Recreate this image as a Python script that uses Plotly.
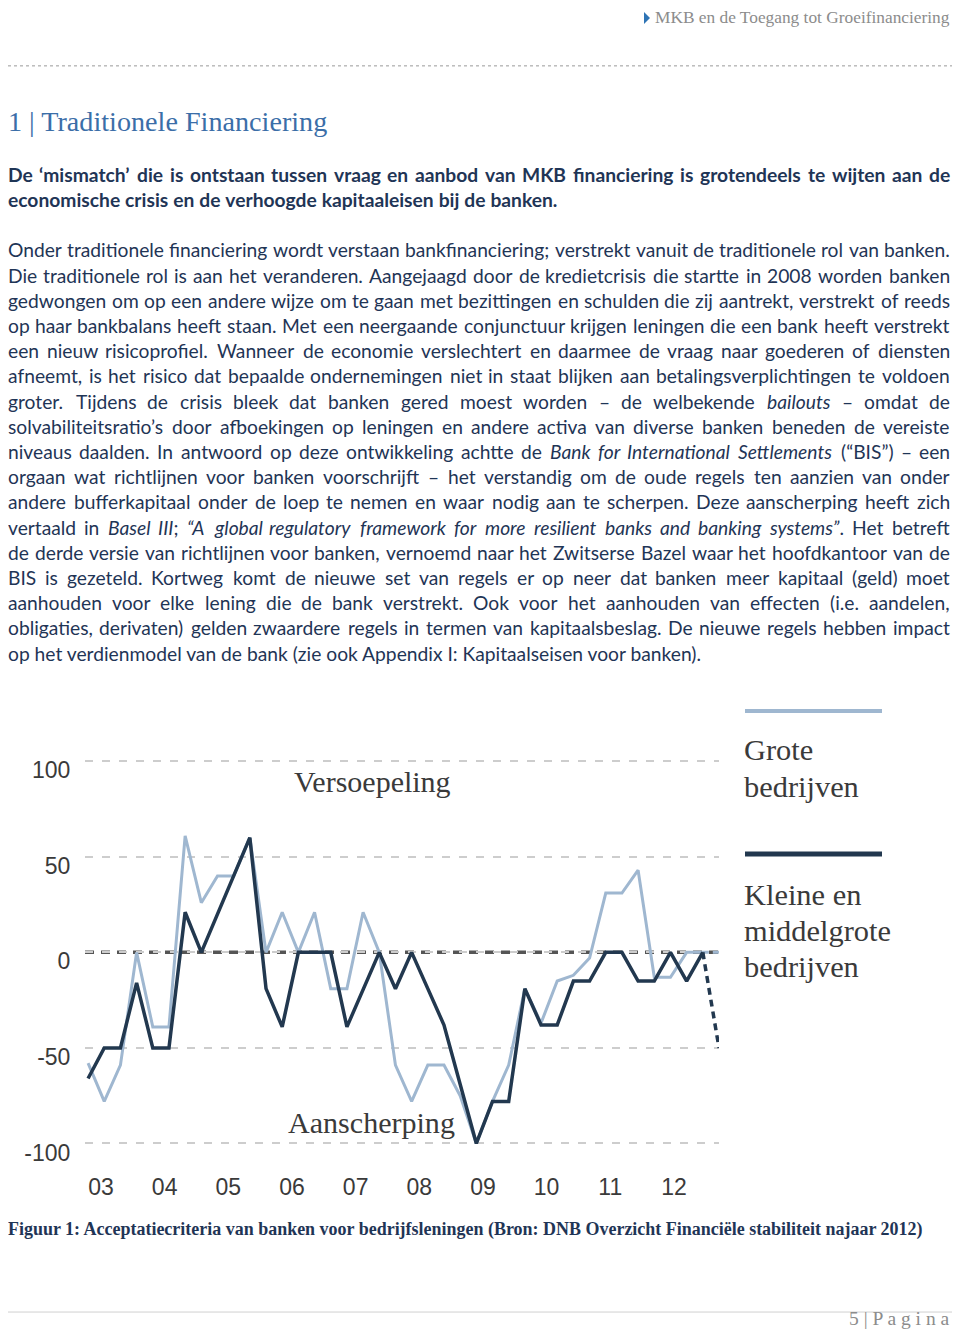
import os
import glob
import struct
import plotly.graph_objects as go

# ---------------------------------------------------------------- data
quarters = ["2003Q1", "2003Q2", "2003Q3", "2003Q4", "2004Q1", "2004Q2", "2004Q3", "2004Q4",
            "2005Q1", "2005Q2", "2005Q3", "2005Q4", "2006Q1", "2006Q2", "2006Q3", "2006Q4",
            "2007Q1", "2007Q2", "2007Q3", "2007Q4", "2008Q1", "2008Q2", "2008Q3", "2008Q4",
            "2009Q1", "2009Q2", "2009Q3", "2009Q4", "2010Q1", "2010Q2", "2010Q3", "2010Q4",
            "2011Q1", "2011Q2", "2011Q3", "2011Q4", "2012Q1", "2012Q2", "2012Q3"]
proj_quarter = "2012Q4"

# Kleine en middelgrote bedrijven (dark line)
mkb = [-66, -50, -50, -16, -50, -50, 21, 0, 20, 40, 60, -19, -39, 0, 0, 0, -39, -19, 0, -19,
       0, -19, -38, -69, -100, -78, -78, -19, -38, -38, -15, -15, 0, 0, -15, -15, 0, -15, 0]
mkb_proj = -50

# Grote bedrijven (light line)
grote = [-58, -78, -59, 0, -39, -39, 61, 26, 40, 40, 60, 0, 21, 0, 21, -19, -19, 21, 0, -59,
         -78, -59, -59, -75, -100, -78, -59, -19, -37, -15, -12, -3, 31, 31, 43, -13, -13, 0, 0]
grote_proj = 0

year_labels = ["03", "04", "05", "06", "07", "08", "09", "10", "11", "12"]
y_ticks = [-100, -50, 0, 50, 100]

series_names = ["Grote bedrijven", "Kleine en middelgrote bedrijven"]
band_labels = ["Versoepeling", "Aanscherping"]

header_text = "MKB en de Toegang tot Groeifinanciering"
heading_text = "1 | Traditionele Financiering"
bold_lines = [
    "De ‘mismatch’ die is ontstaan tussen vraag en aanbod van MKB financiering is grotendeels te wijten aan de",
    "economische crisis en de verhoogde kapitaaleisen bij de banken.",
]
body_lines = [
    "Onder traditionele financiering wordt verstaan bankfinanciering; verstrekt vanuit de traditionele rol van banken.",
    "Die traditionele rol is aan het veranderen. Aangejaagd door de kredietcrisis die startte in 2008 worden banken",
    "gedwongen om op een andere wijze om te gaan met bezittingen en schulden die zij aantrekt, verstrekt of reeds",
    "op haar bankbalans heeft staan. Met een neergaande conjunctuur krijgen leningen die een bank heeft verstrekt",
    "een nieuw risicoprofiel. Wanneer de economie verslechtert en daarmee de vraag naar goederen of diensten",
    "afneemt, is het risico dat bepaalde ondernemingen niet in staat blijken aan betalingsverplichtingen te voldoen",
    "groter. Tijdens de crisis bleek dat banken gered moest worden – de welbekende *bailouts* – omdat de",
    "solvabiliteitsratio’s door afboekingen op leningen en andere activa van diverse banken beneden de vereiste",
    "niveaus daalden. In antwoord op deze ontwikkeling achtte de *Bank for International Settlements* (“BIS”) – een",
    "orgaan wat richtlijnen voor banken voorschrijft – het verstandig om de oude regels ten aanzien van onder",
    "andere bufferkapitaal onder de loep te nemen en waar nodig aan te scherpen. Deze aanscherping heeft zich",
    "vertaald in *Basel III*; *“A global regulatory framework for more resilient banks and banking systems”*. Het betreft",
    "de derde versie van richtlijnen voor banken, vernoemd naar het Zwitserse Bazel waar het hoofdkantoor van de",
    "BIS is gezeteld. Kortweg komt de nieuwe set van regels er op neer dat banken meer kapitaal (geld) moet",
    "aanhouden voor elke lening die de bank verstrekt. Ook voor het aanhouden van effecten (i.e. aandelen,",
    "obligaties, derivaten) gelden zwaardere regels in termen van kapitaalsbeslag. De nieuwe regels hebben impact",
    "op het verdienmodel van de bank (zie ook Appendix I: Kapitaalseisen voor banken).",
]
caption_text = ("Figuur 1: Acceptatiecriteria van banken voor bedrijfsleningen "
                "(Bron: DNB Overzicht Financiële stabiliteit najaar 2012)")
footer_text = "5 | P a g i n a"

# ---------------------------------------------------------------- styling
# the page body has an 8px default margin on every side, so the figure
# occupies page pixels 8..952 x 8..1332
OFF = 8
W, H = 960 - 2 * OFF, 1340 - 2 * OFF
NAVY = "#1f3556"
LIGHT = "#9fb7d0"
DARK = "#22384f"
TXT = "#3a3a3a"


def px(x):
    return (x - OFF) / W


def py(y):
    return 1 - (y - OFF) / H


# ------------------------------------------- font metrics (for text layout)
def find_font(fname):
    roots = ["/usr/share/fonts", "/usr/local/share/fonts",
             os.path.expanduser("~/.fonts"), os.path.expanduser("~/.local/share/fonts")]
    for r in roots:
        hits = glob.glob(os.path.join(r, "**", fname), recursive=True)
        if hits:
            return hits[0]
    return None


def fallback_width(ch):
    if ch == " ":
        return 0.25
    if ch in "iljtf.,;:’‘()|'!":
        return 0.28
    if ch.isupper() or ch in "mw":
        return 0.65
    return 0.5


def load_metrics(fname):
    path = find_font(fname)
    if not path:
        return fallback_width
    try:
        data = open(path, "rb").read()
        num = struct.unpack(">H", data[4:6])[0]
        tables = {}
        for i in range(num):
            tag, _, off, ln = struct.unpack(">4sIII", data[12 + 16 * i:28 + 16 * i])
            tables[tag.decode("latin1")] = off
        off = tables["head"]
        upem = struct.unpack(">H", data[off + 18:off + 20])[0]
        off = tables["hhea"]
        nhm = struct.unpack(">H", data[off + 34:off + 36])[0]
        off = tables["hmtx"]
        adv = [struct.unpack(">H", data[off + 4 * i:off + 4 * i + 2])[0] for i in range(nhm)]
        off = tables["cmap"]
        n = struct.unpack(">H", data[off + 2:off + 4])[0]
        sub = None
        for i in range(n):
            pid, eid, so = struct.unpack(">HHI", data[off + 4 + 8 * i:off + 12 + 8 * i])
            fmt = struct.unpack(">H", data[off + so:off + so + 2])[0]
            if fmt == 4 and (pid == 0 or (pid == 3 and eid == 1)):
                sub = off + so
                break
        seg2 = struct.unpack(">H", data[sub + 6:sub + 8])[0]
        seg = seg2 // 2
        ends = struct.unpack(">%dH" % seg, data[sub + 14:sub + 14 + seg2])
        starts = struct.unpack(">%dH" % seg, data[sub + 16 + seg2:sub + 16 + 2 * seg2])
        deltas = struct.unpack(">%dh" % seg, data[sub + 16 + 2 * seg2:sub + 16 + 3 * seg2])
        rpos = sub + 16 + 3 * seg2
        roffs = struct.unpack(">%dH" % seg, data[rpos:rpos + seg2])
        cache = {}

        def width(ch):
            if ch in cache:
                return cache[ch]
            c = ord(ch)
            g = 0
            for i in range(seg):
                if ends[i] >= c:
                    if starts[i] <= c:
                        if roffs[i] == 0:
                            g = (c + deltas[i]) & 0xFFFF
                        else:
                            p = rpos + 2 * i + roffs[i] + 2 * (c - starts[i])
                            gg = struct.unpack(">H", data[p:p + 2])[0]
                            g = (gg + deltas[i]) & 0xFFFF if gg else 0
                    break
            w = adv[min(g, nhm - 1)] / upem if g else fallback_width(ch)
            cache[ch] = w
            return w
        return width
    except Exception:
        return fallback_width


m_reg = load_metrics("Lato-Regular.ttf")
m_ita = load_metrics("Lato-Italic.ttf")
m_bold = load_metrics("Lato-Bold.ttf")
m_serif = load_metrics("LiberationSerif-Regular.ttf")
m_serif_b = load_metrics("LiberationSerif-Bold.ttf")


def em(text, m):
    return sum(m(ch) for ch in text)


def fit(text, m, target, cap=40):
    return min(cap, target / max(em(text, m), 1e-6))


def split_italic(word, state):
    segs, cur = [], ""
    for ch in word:
        if ch == "*":
            if cur:
                segs.append((cur, state))
            cur = ""
            state = not state
        else:
            cur += ch
    if cur:
        segs.append((cur, state))
    return segs, state


annotations = []


def add_text(x, y, text, size, color, family, xanchor="left", yanchor="middle"):
    annotations.append(dict(
        x=px(x), y=py(y), xref="paper", yref="paper", text=text, showarrow=False,
        xanchor=xanchor, yanchor=yanchor, borderpad=0, borderwidth=0,
        font=dict(size=size, color=color, family=family)))


LEFT, RIGHT = 8, 950
TEXT_W = RIGHT - LEFT


def line_items(line, bold, size, state):
    items = []
    for w in line.split(" "):
        segs, state = split_italic(w, state)
        wd = 0
        html = ""
        for t, it in segs:
            m = m_bold if bold else (m_ita if it else m_reg)
            wd += em(t, m) * size
            html += "<i>%s</i>" % t if it else t
        if bold:
            html = "<b>%s</b>" % html
        items.append((html, wd))
    return items, state


def body_size():
    s = 19.5
    s = min(s, TEXT_W / em(body_lines[0], m_reg))
    for lines, bold in ((body_lines[:-1], False), (bold_lines[:1], True)):
        for ln in lines:
            items, _ = line_items(ln, bold, 1.0, False)
            tot = sum(w for _, w in items)
            s = min(s, TEXT_W / (tot + (len(items) - 1) * 0.17))
    return s


BS = body_size()


def add_paragraph(lines, y0, step, bold):
    state = False
    for k, ln in enumerate(lines):
        y = y0 + step * k
        items, state = line_items(ln, bold, BS, state)
        if k < len(lines) - 1:
            tot = sum(w for _, w in items)
            gap = (TEXT_W - tot) / (len(items) - 1)
            x = LEFT
            for i, (h, w) in enumerate(items):
                if i == len(items) - 1:
                    add_text(RIGHT, y, h, BS, NAVY, "Lato", xanchor="right")
                else:
                    add_text(x, y, h, BS, NAVY, "Lato")
                x += w + gap
        else:
            add_text(LEFT, y, " ".join(h for h, _ in items), BS, NAVY, "Lato")


# ---------------------------------------------------------------- page text
add_text(RIGHT, 8, header_text, fit(header_text, m_serif, 296), "#8c8c8c", "Liberation Serif",
         xanchor="right", yanchor="top")
add_text(LEFT, 122, heading_text, fit(heading_text, m_serif, 321), "#3b6ea8", "Liberation Serif")
add_paragraph(bold_lines, 175, 25.2, True)
add_paragraph(body_lines, 250.5, 25.25, False)
add_text(LEFT, 1232, "<b>%s</b>" % caption_text, fit(caption_text, m_serif_b, 917), NAVY,
         "Liberation Serif")
add_text(RIGHT, 1332, footer_text, fit(footer_text, m_serif, 101), "#8c8c8c", "Liberation Serif",
         xanchor="right", yanchor="bottom")

# chart texts
add_text(372, 783, band_labels[0], fit(band_labels[0], m_serif, 160), TXT, "Liberation Serif",
         xanchor="center")
add_text(371, 1126, band_labels[1], fit(band_labels[1], m_serif, 167), TXT, "Liberation Serif",
         xanchor="center")
leg_size = fit("middelgrote", m_serif, 147)
add_text(744, 752, "Grote", leg_size, TXT, "Liberation Serif")
add_text(744, 789, "bedrijven", leg_size, TXT, "Liberation Serif")
add_text(744, 897, "Kleine en", leg_size, TXT, "Liberation Serif")
add_text(744, 933, "middelgrote", leg_size, TXT, "Liberation Serif")
add_text(744, 969, "bedrijven", leg_size, TXT, "Liberation Serif")

# ---------------------------------------------------------------- chart
xi = list(range(len(quarters)))
x_proj = len(quarters)
fig = go.Figure()
fig.add_trace(go.Scatter(x=xi, y=grote, mode="lines", name=series_names[0],
                         line=dict(color=LIGHT, width=3), showlegend=False))
fig.add_trace(go.Scatter(x=[xi[-1], x_proj], y=[grote[-1], grote_proj], mode="lines",
                         line=dict(color=LIGHT, width=3, dash="6px,4px"), showlegend=False))
fig.add_trace(go.Scatter(x=xi, y=mkb, mode="lines", name=series_names[1],
                         line=dict(color=DARK, width=3.5), showlegend=False))
fig.add_trace(go.Scatter(x=[xi[-1], x_proj], y=[mkb[-1], mkb_proj], mode="lines",
                         line=dict(color=DARK, width=3.5, dash="7px,5px"), showlegend=False))

tick_pos = [0.8 + 3.935 * k for k in range(len(year_labels))]

shapes = [
    # zero reference line
    dict(type="line", xref="x domain", yref="y", x0=0, x1=1, y0=0, y1=0, layer="below",
         line=dict(color="#555555", width=3.5, dash="9px,7px")),
    # legend keys
    dict(type="line", xref="paper", yref="paper", x0=px(745), x1=px(882), y0=py(712.5),
         y1=py(712.5), line=dict(color=LIGHT, width=4)),
    dict(type="line", xref="paper", yref="paper", x0=px(745), x1=px(882), y0=py(856),
         y1=py(856), line=dict(color=DARK, width=5)),
    # page rules
    dict(type="line", xref="paper", yref="paper", x0=0, x1=1, y0=py(66), y1=py(66),
         line=dict(color="#9a9a9a", width=1, dash="dot")),
    dict(type="line", xref="paper", yref="paper", x0=0, x1=1, y0=py(1315), y1=py(1315),
         line=dict(color="#d0d0d0", width=1)),
    # header bullet
    dict(type="path", xref="paper", yref="paper",
         path="M %f %f L %f %f L %f %f Z" % (px(644), py(12), px(650), py(18), px(644), py(24)),
         fillcolor="#2e74b5", line=dict(width=0)),
]

fig.update_layout(
    width=W, height=H,
    margin=dict(l=0, r=0, t=0, b=0),
    paper_bgcolor="white", plot_bgcolor="white",
    showlegend=False,
    annotations=annotations,
    shapes=shapes,
    xaxis=dict(domain=[px(85), px(719)], range=[-0.19, 39.0], showgrid=False, zeroline=False,
               showline=False, tickmode="array", tickvals=tick_pos, ticktext=year_labels,
               ticks="outside", ticklen=4, tickcolor="rgba(0,0,0,0)",
               tickfont=dict(family="Liberation Sans", size=23, color=TXT), fixedrange=True),
    yaxis=dict(domain=[py(1165.2), py(743.8)], range=[-110, 110], zeroline=False,
               showline=False, tickmode="array", tickvals=y_ticks,
               ticktext=[str(v) for v in y_ticks], showgrid=True, gridcolor="#cdcdcd",
               gridwidth=1.5, griddash="8px,9px", ticks="outside", ticklen=9,
               tickcolor="rgba(0,0,0,0)", ticklabelshift=9,
               tickfont=dict(family="Liberation Sans", size=23, color=TXT), fixedrange=True),
)

fig.write_html("out.html")
